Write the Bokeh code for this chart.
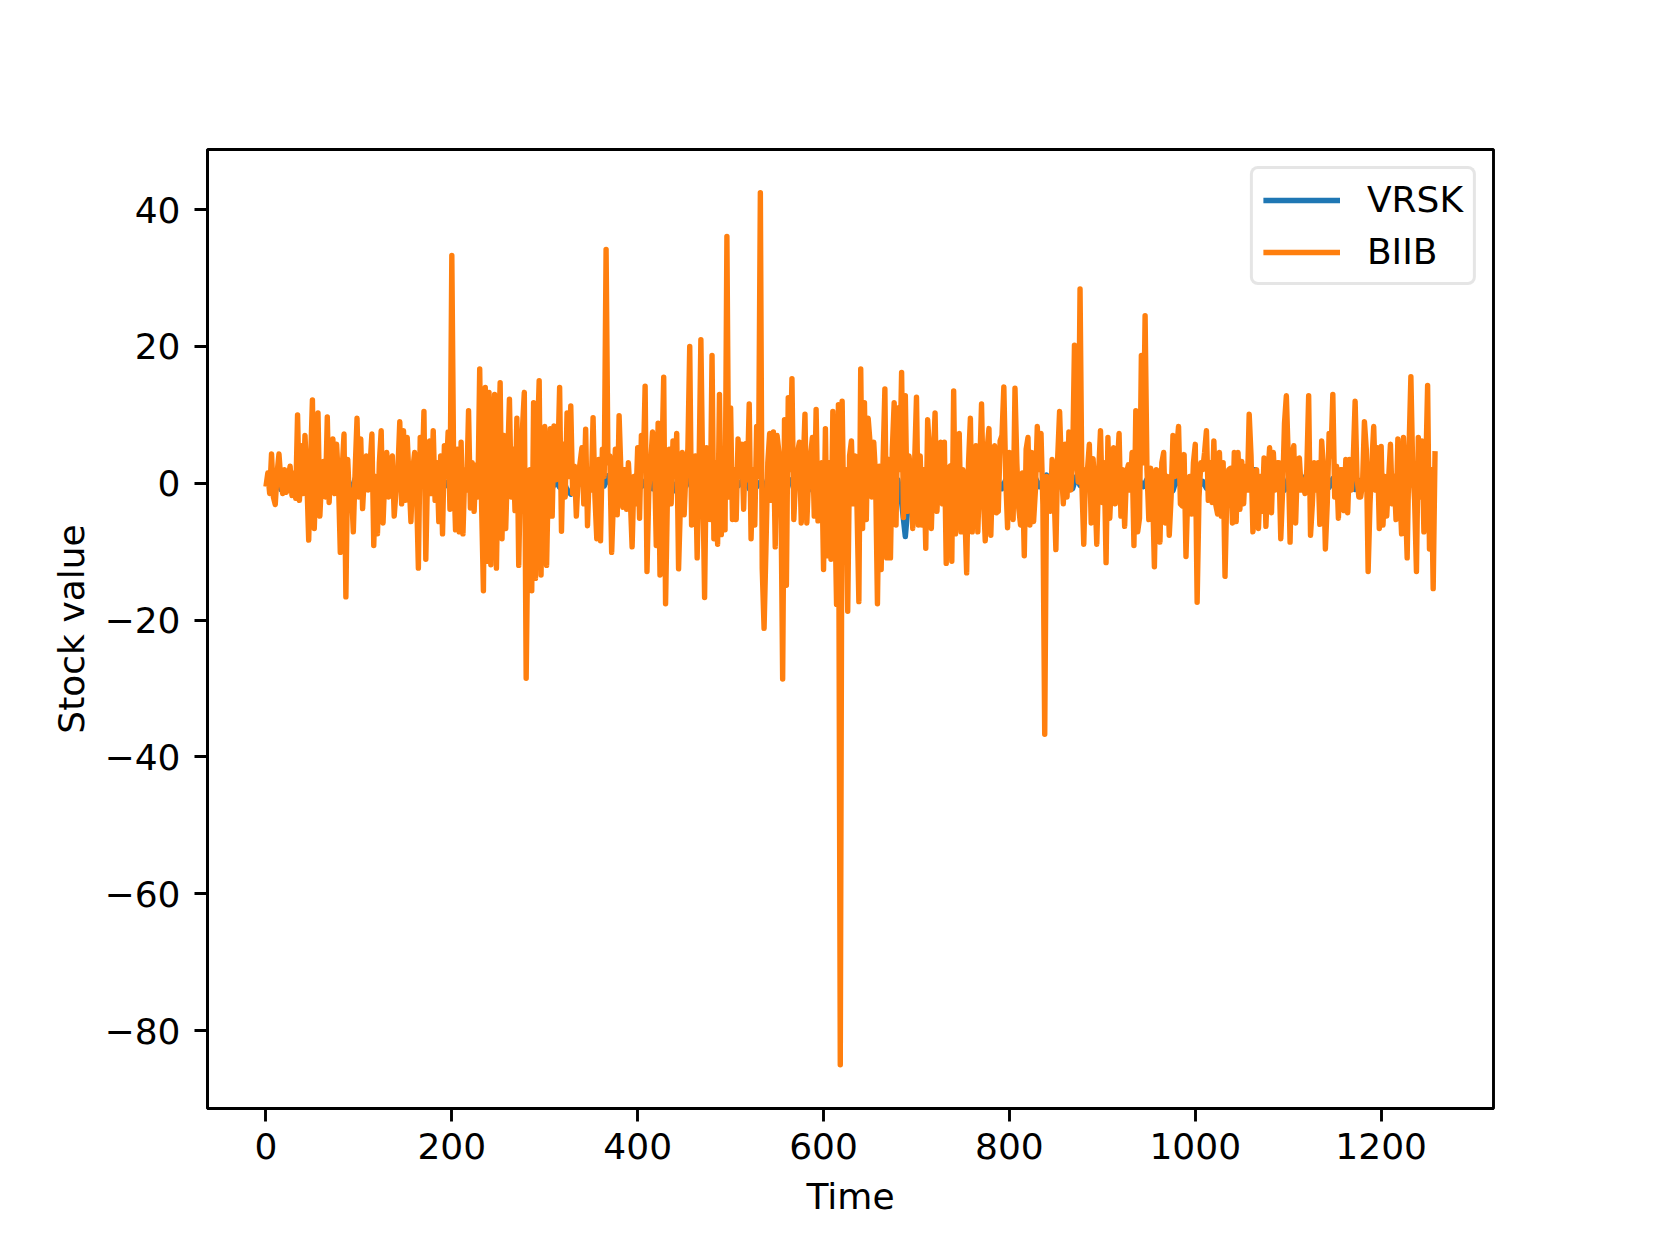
from bokeh.plotting import figure
from bokeh.models import Range1d, FixedTicker, Legend, LegendItem
from bokeh.embed import file_html
from bokeh.resources import INLINE

# ---- data ----
biib = [
    -0.5, 1.5, -1.5, 4.3, -2.0, -3.1, 1.5, 4.3, 0.5, -1.5, 2.0, -1.3, 0.8, 2.5, -1.8, 1.5, -2.2, 10.0, -2.5, 5.5,
    -1.5, 7.0, 0.5, -8.3, 3.0, 12.2, -6.6, 2.0, 10.3, -4.8, 1.0, 3.2, -2.0, 9.7, -2.8, 4.0, 6.5, -1.5, 5.7, 0.5,
    -10.1, 2.0, 7.2, -16.6, 3.5, -3.0, -1.0, -7.1, 2.0, 9.5, -2.0, 6.5, -3.7, 1.5, 4.0, -1.0, 2.5, 7.2, -9.1, 1.0,
    -7.4, 3.0, 7.7, -5.8, 1.5, 4.5, -2.0, 3.0, 4.0, -4.8, -1.0, 2.0, 9.0, -3.0, 7.7, -2.5, 6.7, 0.5, -5.6, 2.0,
    4.5, -1.0, -12.4, 6.7, 0.5, 10.5, -11.1, 2.0, 6.2, -1.5, 7.7, -2.5, 3.0, -5.6, 4.0, -7.4, 5.5, 1.0, 7.5, -3.8,
    33.3, 2.0, -6.8, 5.0, -7.1, 6.0, -7.4, 2.0, -1.0, 10.6, -3.6, 3.0, -4.1, 2.7, -2.0, 16.7, -3.0, -15.7, 14.0, -11.4,
    13.3, -11.9, 5.0, 13.0, -12.4, 4.0, 14.7, -8.1, 7.0, -6.6, 3.0, 12.3, -2.0, 5.0, -4.0, 9.5, -12.0, 3.0, 8.0, 13.3,
    -28.5, -5.0, 2.0, -15.7, 11.8, -13.9, 6.0, 15.0, -13.4, 4.0, 8.3, -12.0, 2.0, 8.0, -4.8, 8.4, 0.5, 3.0, 14.0, -7.0,
    5.7, -2.0, 10.3, 1.0, 11.3, -1.5, 2.5, -4.8, 1.0, 3.0, 5.2, -3.0, 7.9, -6.2, 2.0, -1.0, 9.6, -2.0, -8.1, 3.5,
    -8.4, 5.0, 1.0, 34.2, 3.0, 4.0, -10.1, -2.0, 5.0, -4.6, 9.9, 1.5, -3.5, 2.0, -3.8, 3.0, -2.0, -9.3, 1.0, -3.0,
    5.2, -5.1, 7.0, 2.0, 14.2, -12.9, -1.0, 3.0, 7.5, 4.0, -9.1, 8.8, -13.4, 3.0, 15.5, -17.6, -2.0, 5.0, -3.0, 6.2,
    1.0, 7.3, -12.5, -3.0, 4.5, -4.6, 2.0, 5.0, 20.0, -6.1, 3.0, 4.0, -10.9, 2.0, 21.0, 1.0, -16.7, 5.2, -1.5, -5.3,
    18.7, -8.1, 3.0, -8.9, 13.0, -7.5, 2.0, -6.8, 36.1, -2.0, 11.0, -5.3, 2.0, -5.3, 6.5, 1.0, 5.7, -3.8, 5.8, 0.5,
    11.6, -8.1, 2.0, -6.1, 8.3, 1.0, 42.5, -12.4, -21.2, -9.6, 3.0, 7.3, -2.5, 7.5, -9.3, 7.0, 4.5, 0.5, -28.6, 9.3,
    -14.9, 12.5, 2.0, 15.3, -5.3, 1.0, 4.5, 6.0, -5.8, 2.0, 10.1, -5.8, 1.0, 4.0, 6.7, -4.8, 10.8, -5.5, 2.0, 3.0,
    -12.6, 8.0, -10.6, 3.0, -11.1, 10.5, -2.0, -17.7, 11.5, -85.0, 12.0, -6.8, 2.0, -18.7, 4.0, 6.2, -3.0, 4.0, -3.5, -17.3,
    16.7, -6.6, 11.8, -5.3, 9.5, 6.0, -2.0, 6.0, 1.0, -17.6, 2.5, -12.6, 3.0, 13.8, -10.9, 3.5, -10.9, 5.0, 11.8, -6.1,
    11.0, 2.0, 16.2, -5.0, 12.8, -4.1, 4.0, 1.0, -6.6, 3.0, 12.6, -6.1, 4.0, -6.1, 2.0, -9.5, 9.3, 4.7, -6.6, 3.0,
    10.3, -4.1, 2.0, 6.0, -3.0, 6.0, -11.7, 2.2, 2.5, -11.4, 13.5, -7.4, 2.0, 7.3, -7.1, 2.0, -4.0, -13.1, 3.0, 9.5,
    -7.1, 3.0, 5.5, -7.1, 2.0, 11.6, -2.0, -8.4, 5.0, 8.0, -7.6, 2.0, 5.5, -4.3, -4.1, 6.2, 7.0, 14.1, 1.0, -6.5,
    4.5, -1.0, -5.3, 13.9, 3.0, -3.6, -6.1, 1.5, -10.6, 5.0, 6.7, -6.1, 4.5, -5.6, -1.0, 8.3, 2.0, 7.3, -3.0, -36.7,
    1.0, -2.0, -4.1, 3.5, -1.0, -9.7, 4.0, 10.5, 2.0, -3.0, 5.7, -2.0, 7.5, -1.0, 3.0, 20.2, 5.0, 0.2, 28.4, -0.3,
    -8.9, 2.0, 2.0, 5.7, -5.8, 3.6, -1.0, -8.9, 1.5, 7.7, -2.8, 3.0, -11.6, 6.7, -5.1, 1.5, 5.2, -3.0, 2.0, 7.3,
    -4.8, 2.0, -6.3, 1.5, 2.7, -1.0, 4.5, -9.1, 10.6, -7.1, -5.1, 18.7, 3.0, 24.5, 2.0, -5.3, 2.2, -1.0, -12.2, 2.0,
    1.7, -8.6, 3.0, 4.5, -5.8, 1.0, -7.6, -2.0, 7.0, 1.0, 5.0, 8.3, -3.0, -3.3, 4.2, -10.7, -1.0, 1.0, -4.5, 3.0,
    5.7, -17.4, -2.0, 3.0, 2.0, 4.5, 7.7, -2.5, 3.0, -2.8, 6.2, -3.1, -4.5, 4.5, -4.8, 3.0, -13.6, -1.0, 2.0, 2.2,
    -5.8, 4.5, -5.6, 4.5, -3.8, 3.2, -3.0, 2.5, -1.0, 10.1, 4.0, -7.1, -3.6, 2.0, -6.6, 1.0, -4.1, 3.7, -6.3, 1.0,
    5.2, -4.3, 4.5, -1.0, 3.0, 3.0, -8.1, -1.0, 8.8, 12.8, 4.0, -8.6, 4.0, 5.5, -5.8, 3.5, 3.7, -1.0, 0.5, -1.5,
    2.0, 12.8, -7.6, -3.0, 3.0, -1.0, 3.0, -6.0, 6.2, 2.0, -9.6, -3.0, 7.3, 4.0, 13.0, -2.0, 2.5, -5.1, 2.0, 2.0,
    -4.0, 3.5, -4.3, 3.5, -1.0, 3.5, 12.0, 1.0, -2.0, -2.0, 0.0, 9.0, 5.0, -12.9, -3.0, 3.0, 8.3, -1.0, 5.2, -6.6,
    5.4, -6.1, 1.0, -4.8, 0.5, 5.7, -3.0, 1.0, -5.3, 6.5, -1.0, -7.4, 6.7, -2.0, -10.9, 5.0, 15.6, 2.0, -2.5, -12.9,
    6.7, -2.0, 6.2, -7.1, 2.0, 14.3, -9.6, 2.0, -15.4, 4.7,
]
biib_time = list(range(0, 2 * len(biib), 2))

vrsk = [
    -0.3, 0.4, -0.6, 0.8, -0.9, 0.5, -0.4, 1.0, -0.7, 0.3, -0.5, 0.6, -1.1, 0.4, 0.2, -0.6, 0.9, -0.3, 0.5, -0.8,
    0.6, -0.4, 0.3, -1.0, 0.7, -0.2, 0.5, -0.6, 1.1, -0.5, 0.2, -0.7, 0.4, 0.6, -0.9, 0.3, -0.4, 0.8, -0.6, 0.2,
    -0.5, 0.9, -0.3, 0.4, -0.8, 0.6, -1.2, 0.5, 0.3, -0.4, 0.7, -0.6, 0.2, 1.0, -0.9, 0.4, -0.3, 0.6, -0.5, 0.8,
    -0.7, 0.3, -0.4, 1.2, -0.6, 0.5, -1.0, 0.7, -0.3, 0.4, 0.9, -0.8, 0.2, -0.5, 0.6, -0.4, 1.0, -0.7, 0.3, -0.6,
    0.5, -1.0, -1.6, 0.4, -0.3, 0.8, -0.6, 0.5, -0.9, 0.3, 0.6, -0.4, 1.1, -0.7, 0.2, -0.5, 0.8, -0.3, 0.4, -0.9,
    0.7, -0.5, 0.3, 1.0, -0.8, 0.4, -0.6, 0.9, -0.3, 0.5, -1.1, 0.6, 0.2, -0.4, 0.8, -0.7, 0.5, -0.3, 1.2, -0.9,
    0.4, -0.6, 0.7, -0.2, 0.9, -1.0, 0.5, -0.4, 0.3, 1.1, -0.8, 0.6, -0.5, 0.2, -0.9, 0.7, -0.3, 0.8, -0.6, 0.4,
    -1.2, 0.5, -0.3, 0.9, -0.7, 0.4, 0.6, -1.0, 0.3, -0.5, 1.4, -1.6, 0.8, -0.4, 0.6, -0.9, 0.5, -0.3, 1.0, -0.6,
    0.7, -0.8, 0.4, -0.5, 1.1, -0.9, 0.3, -0.6, 0.8, -0.4, 0.5, -2.8, -7.8, -1.5, 0.6, -0.7, 0.9, -0.5, 0.4, -0.3,
    0.6, -0.8, 1.0, -0.5, 0.3, -0.9, 0.7, -0.4, 0.5, -1.1, 0.8, -0.3, 0.6, -0.7, 0.4, 1.0, -0.6, 0.3, -0.8, 0.5,
    -0.4, 0.9, -0.7, 0.5, -1.0, 0.6, -0.3, 0.8, -0.5, 0.4, 1.2, -0.9, 0.3, -0.6, 0.7, -0.4, 0.5, -0.8, 1.0, -0.3,
    0.6, -0.5, 0.8, -1.0, 0.4, -0.3, 0.7, -0.6, 0.9, -0.4, 0.3, -0.8, 0.5, 1.1, -0.7, 0.4, -0.5, 0.6, -0.9, 0.3,
    -0.6, 0.8, -0.4, 0.5, -1.1, 0.7, -0.3, 0.6, -0.8, 0.4, 1.0, -0.5, 0.3, -0.7, 0.9, -1.0, -1.5, -3.0, 0.6, -0.4,
    0.7, -0.5, 0.4, -0.8, 0.6, -0.3, 2.0, 0.5, -0.9, 0.4, -0.6, 0.8, -0.4, 0.3, -1.0, 0.7, -0.5, 0.6, -0.3, 0.9,
    -0.7, 0.4, -0.5, 1.0, -0.8, 0.3, -0.6, 0.7, -0.4, 0.5, -3.3, -1.0, 0.6, -0.9, 0.4, -0.3, 0.8, -0.6, 0.5, -1.0,
    0.6, -0.4, 0.9, -0.7, 0.3, -0.5, 1.0, -0.8, 0.4, -0.6, 0.7, -0.3, 0.5, -0.4, 0.0,
]
vrsk_time = list(range(0, 4 * len(vrsk), 4))

x_ticks = [0, 200, 400, 600, 800, 1000, 1200]
y_ticks = [-80, -60, -40, -20, 0, 20, 40]
y_labels = {t: (("\u2212" + str(abs(t))) if t < 0 else str(t)) for t in y_ticks}

FONT = "DejaVu Sans"
BLUE = "#1f77b4"
ORANGE = "#ff7f0e"

p = figure(
    frame_width=1286, frame_height=959,
    x_range=Range1d(-62.9, 1320.9), y_range=Range1d(-91.4, 48.8),
    output_backend="svg", toolbar_location=None,
    min_border_left=207, min_border_right=146, min_border_top=149, min_border_bottom=128,
    background_fill_color="white", border_fill_color="white",
)
p.grid.visible = False
p.outline_line_color = "black"
p.outline_line_width = 2.9

r_v = p.line(vrsk_time, vrsk, line_color=BLUE, line_width=5.4, line_join="round")
r_b = p.line(biib_time, biib, line_color=ORANGE, line_width=5.4, line_join="round")

for ax in (p.xaxis[0], p.yaxis[0]):
    ax.axis_line_width = 2.9
    ax.axis_line_color = "black"
    ax.major_tick_line_width = 2.9
    ax.major_tick_line_color = "black"
    ax.major_tick_out = 13
    ax.major_tick_in = 0
    ax.minor_tick_line_color = None
    ax.major_label_text_font = FONT
    ax.major_label_text_font_size = "36px"
    ax.major_label_text_color = "black"
    ax.axis_label_text_font = FONT
    ax.axis_label_text_font_size = "36px"
    ax.axis_label_text_font_style = "normal"
    ax.axis_label_text_color = "black"

p.xaxis[0].ticker = FixedTicker(ticks=x_ticks)
p.yaxis[0].ticker = FixedTicker(ticks=y_ticks)
p.yaxis[0].major_label_overrides = y_labels
p.xaxis[0].axis_label = "Time"
p.yaxis[0].axis_label = "Stock value"
p.xaxis[0].major_label_standoff = 11
p.yaxis[0].major_label_standoff = 14
p.xaxis[0].axis_label_standoff = 14
p.yaxis[0].axis_label_standoff = 10

legend = Legend(
    items=[LegendItem(label="VRSK", renderers=[r_v]), LegendItem(label="BIIB", renderers=[r_b])],
    location="top_right",
    margin=17, padding=10, spacing=11,
    glyph_width=77, glyph_height=36, label_standoff=27, label_height=36,
    label_text_font=FONT, label_text_font_size="36px", label_text_color="black",
    border_line_color="#cccccc", border_line_width=3,
    background_fill_color="white", background_fill_alpha=0.8,
)
try:
    legend.border_radius = 8
except Exception:
    pass
p.add_layout(legend, "center")

open("out.html", "w").write(file_html(p, INLINE))
